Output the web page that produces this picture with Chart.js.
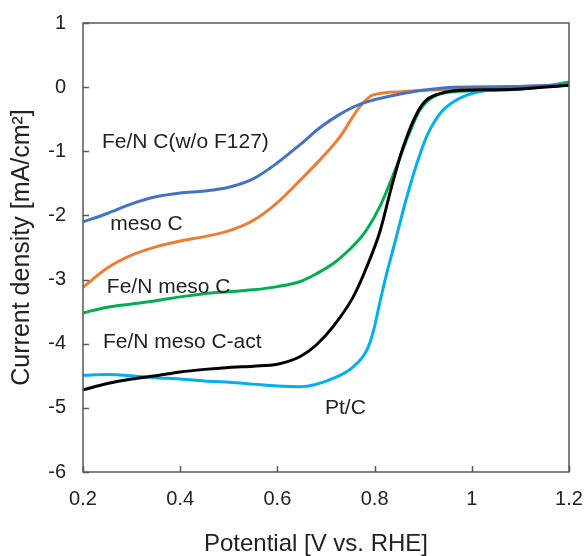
<!DOCTYPE html>
<html>
<head>
<meta charset="utf-8">
<script src="https://cdn.jsdelivr.net/npm/chart.js@4.4.1/dist/chart.umd.min.js"></script>
<style>
  html, body { margin: 0; padding: 0; background: #fff; }
  #wrap { width: 587px; height: 556px; }
</style>
</head>
<body>
<div id="wrap"><canvas id="chart" width="587" height="556"></canvas></div>
<script>
// --- data ---
const f127X = [0.2, 0.25, 0.3, 0.35, 0.4, 0.45, 0.5, 0.55, 0.6, 0.646, 0.688, 0.729, 0.776, 0.858, 0.9, 0.961, 1.1, 1.2];
const f127Y = [-2.10, -1.97, -1.82, -1.71, -1.65, -1.62, -1.56, -1.43, -1.18, -0.90, -0.63, -0.42, -0.25, -0.10, -0.05, 0.0, 0.01, 0.04];

const mesoX = [0.2, 0.25, 0.3, 0.35, 0.4, 0.45, 0.5, 0.55, 0.6, 0.647, 0.688, 0.729, 0.77, 0.797, 0.858, 0.9, 1.0, 1.1, 1.2];
const mesoY = [-3.12, -2.82, -2.62, -2.49, -2.40, -2.33, -2.24, -2.08, -1.80, -1.45, -1.13, -0.77, -0.30, -0.12, -0.07, -0.05, -0.02, 0.01, 0.04];

const feMesoX = [0.2, 0.25, 0.3, 0.35, 0.4, 0.45, 0.5, 0.55, 0.6, 0.647, 0.68, 0.715, 0.75, 0.77, 0.784, 0.811, 0.845, 0.866, 0.893, 0.921, 0.962, 1.05, 1.1, 1.15, 1.2];
const feMesoY = [-3.52, -3.43, -3.38, -3.33, -3.27, -3.22, -3.19, -3.16, -3.11, -3.03, -2.91, -2.75, -2.52, -2.36, -2.22, -1.86, -1.24, -0.82, -0.36, -0.15, -0.07, -0.05, -0.03, 0.01, 0.08];

const actX = [0.2, 0.25, 0.3, 0.35, 0.4, 0.45, 0.5, 0.55, 0.6, 0.647, 0.68, 0.715, 0.756, 0.784, 0.811, 0.835, 0.859, 0.887, 0.907, 0.935, 0.976, 1.05, 1.1, 1.2];
const actY = [-4.72, -4.62, -4.55, -4.50, -4.44, -4.40, -4.37, -4.35, -4.32, -4.20, -4.02, -3.73, -3.27, -2.80, -2.25, -1.55, -0.93, -0.41, -0.20, -0.10, -0.05, -0.04, -0.03, 0.03];

const ptX = [0.2, 0.25, 0.3, 0.35, 0.4, 0.45, 0.5, 0.55, 0.6, 0.647, 0.715, 0.756, 0.784, 0.797, 0.811, 0.825, 0.839, 0.852, 0.866, 0.887, 0.907, 0.935, 0.962, 0.976, 1.0, 1.05, 1.1, 1.2];
const ptY = [-4.49, -4.48, -4.50, -4.53, -4.55, -4.58, -4.60, -4.63, -4.66, -4.67, -4.54, -4.36, -4.10, -3.82, -3.35, -2.90, -2.50, -2.12, -1.72, -1.19, -0.77, -0.41, -0.23, -0.17, -0.10, -0.03, 0.0, 0.03];

const xTicks = [0.2, 0.4, 0.6, 0.8, 1.0, 1.2];
const yTicks = [1, 0, -1, -2, -3, -4, -5, -6];

// label text and anchor (data units, left / middle)
const noteText = ['Fe/N C(w/o F127)', 'meso C', 'Fe/N meso C', 'Fe/N meso C-act', 'Pt/C'];
const noteX = [0.239, 0.256, 0.249, 0.241, 0.698];
const noteY = [-0.86, -2.13, -3.12, -3.97, -5.0];

const FONT = "'Liberation Sans', Arial, sans-serif";

function pts(xs, ys) { return xs.map((x, i) => ({ x: x, y: ys[i] })); }

function series(data, color) {
    return {
        data: data,
        borderColor: color,
        borderWidth: 3,
        pointRadius: 0,
        fill: false,
        cubicInterpolationMode: 'monotone'
    };
}

// frame + inward ticks + curve labels
const framePlugin = {
    id: 'frame',
    afterDraw(chart) {
        const ctx = chart.ctx;
        const a = chart.chartArea;
        const xs = chart.scales.x, ys = chart.scales.y;
        ctx.save();
        ctx.strokeStyle = '#595959';
        ctx.lineWidth = 1.5;
        ctx.strokeRect(a.left, a.top, a.right - a.left, a.bottom - a.top);
        ctx.beginPath();
        xTicks.forEach(v => {
            const p = Math.round(xs.getPixelForValue(v)) + 0.5;
            ctx.moveTo(p, a.bottom); ctx.lineTo(p, a.bottom - 6);
        });
        yTicks.forEach(v => {
            const p = Math.round(ys.getPixelForValue(v)) + 0.5;
            ctx.moveTo(a.left, p); ctx.lineTo(a.left + 6, p);
        });
        ctx.stroke();

        ctx.fillStyle = '#222';
        ctx.font = '21px ' + FONT;
        ctx.textBaseline = 'middle';
        ctx.textAlign = 'left';
        noteText.forEach((t, i) => {
            ctx.fillText(t, xs.getPixelForValue(noteX[i]), ys.getPixelForValue(noteY[i]));
        });
        ctx.restore();
    }
};

new Chart(document.getElementById('chart'), {
    type: 'line',
    data: {
        datasets: [
            series(pts(actX, actY), '#000000'),
            series(pts(f127X, f127Y), '#4472C4'),
            series(pts(ptX, ptY), '#00B0F0'),
            series(pts(mesoX, mesoY), '#ED7D31'),
            series(pts(feMesoX, feMesoY), '#00B050')
        ]
    },
    options: {
        responsive: false,
        animation: false,
        layout: { padding: { top: 23, right: 18, left: 0, bottom: 0 } },
        plugins: { legend: { display: false }, tooltip: { enabled: false } },
        scales: {
            x: {
                type: 'linear',
                min: 0.2, max: 1.2,
                afterBuildTicks(s) { s.ticks = xTicks.map(v => ({ value: v })); },
                afterFit(s) { s.height = 84; s.paddingLeft = 0; s.paddingRight = 0; },
                grid: { display: false, drawTicks: false },
                border: { display: false },
                ticks: {
                    padding: 15,
                    color: '#222',
                    font: { family: FONT, size: 20 },
                    callback: v => String(Math.round(v * 10) / 10),
                    maxRotation: 0
                },
                title: {
                    display: true,
                    text: 'Potential [V vs. RHE]\u00a0\u00a0\u00a0',
                    color: '#222',
                    font: { family: FONT, size: 24, lineHeight: 1 },
                    padding: { top: 0, bottom: 0 }
                }
            },
            y: {
                type: 'linear',
                min: -6, max: 1,
                afterBuildTicks(s) { s.ticks = yTicks.map(v => ({ value: v })); },
                afterFit(s) { s.width = 83; s.paddingTop = 0; s.paddingBottom = 0; },
                grid: { display: false, drawTicks: false },
                border: { display: false },
                ticks: {
                    padding: 17,
                    color: '#222',
                    font: { family: FONT, size: 20 }
                },
                title: {
                    display: true,
                    text: 'Current density [mA/cm²]',
                    color: '#222',
                    font: { family: FONT, size: 25, lineHeight: 1 },
                    padding: { top: 10, bottom: 0 }
                }
            }
        }
    },
    plugins: [framePlugin]
});
</script>
</body>
</html>
